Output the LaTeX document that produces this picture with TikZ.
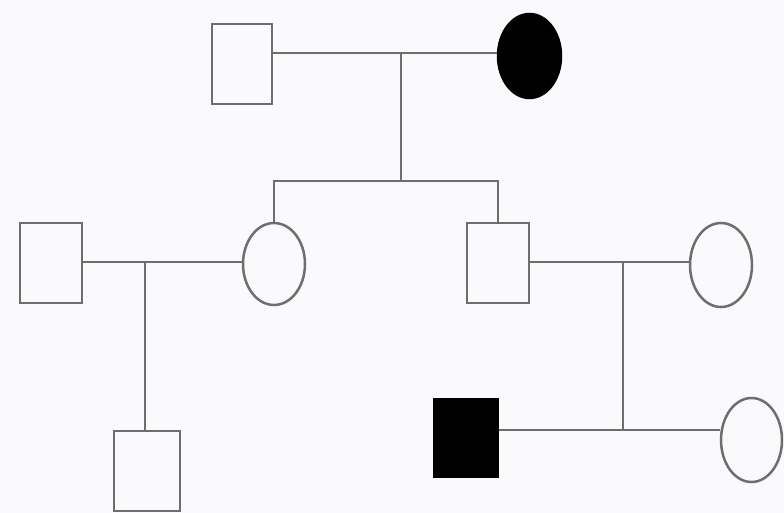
\documentclass[tikz,border=0pt]{standalone}
\usetikzlibrary{shapes.geometric}
\definecolor{bg}{HTML}{FAFAFC}
\definecolor{ln}{HTML}{6E6E6E}
\begin{document}
\begin{tikzpicture}[x=1pt,y=-1pt,
  male/.style={draw=ln,line width=2.5pt,rectangle,inner sep=0pt,fill=bg},
  female/.style={draw=ln,line width=2.5pt,ellipse,inner sep=0pt,fill=bg},
  aff/.style={fill=black,draw=black},
  link/.style={draw=ln,line width=2.5pt}]
\fill[bg] (0,0) rectangle (784,513);
\useasboundingbox (0,0) rectangle (784,513);
% generation I
\node[male,minimum width=60pt,minimum height=80pt] (gf) at (242,64) {};
\node[female,aff,minimum width=63pt,minimum height=84pt] (gm) at (529.5,56) {};
% generation II
\node[male,minimum width=62pt,minimum height=80pt] (hl) at (51,263) {};
\node[female,minimum width=62pt,minimum height=82pt] (d1) at (274,264) {};
\node[male,minimum width=62pt,minimum height=80pt] (s1) at (498,263) {};
\node[female,minimum width=62pt,minimum height=84pt] (w1) at (721,265) {};
% generation III
\node[male,minimum width=66pt,minimum height=80pt] (c1) at (147,471) {};
\node[male,aff,minimum width=64pt,minimum height=78pt] (pb) at (466,438) {};
\node[female,minimum width=61pt,minimum height=84pt] (w2) at (751.5,440) {};
% junctions
\coordinate (j1) at (401,53);
\coordinate (sib) at (401,181);
\coordinate (j2) at (145,262);
\coordinate (j3) at (623,262);
\coordinate (j4) at (623,430);
% connectors
\draw[link] (gf.east |- j1) -- (gm.west |- j1);
\draw[link] (j1) -- (sib);
\draw[link] (d1.north) |- (sib) -| (s1.north);
\draw[link] (hl.east |- j2) -- (d1.west |- j2);
\draw[link] (j2) -- (c1.north -| j2);
\draw[link] (s1.east |- j3) -- (w1.west |- j3);
\draw[link] (j3) -- (j4);
\draw[link] (pb.east |- j4) -- (w2.west |- j4);
\end{tikzpicture}
\end{document}
